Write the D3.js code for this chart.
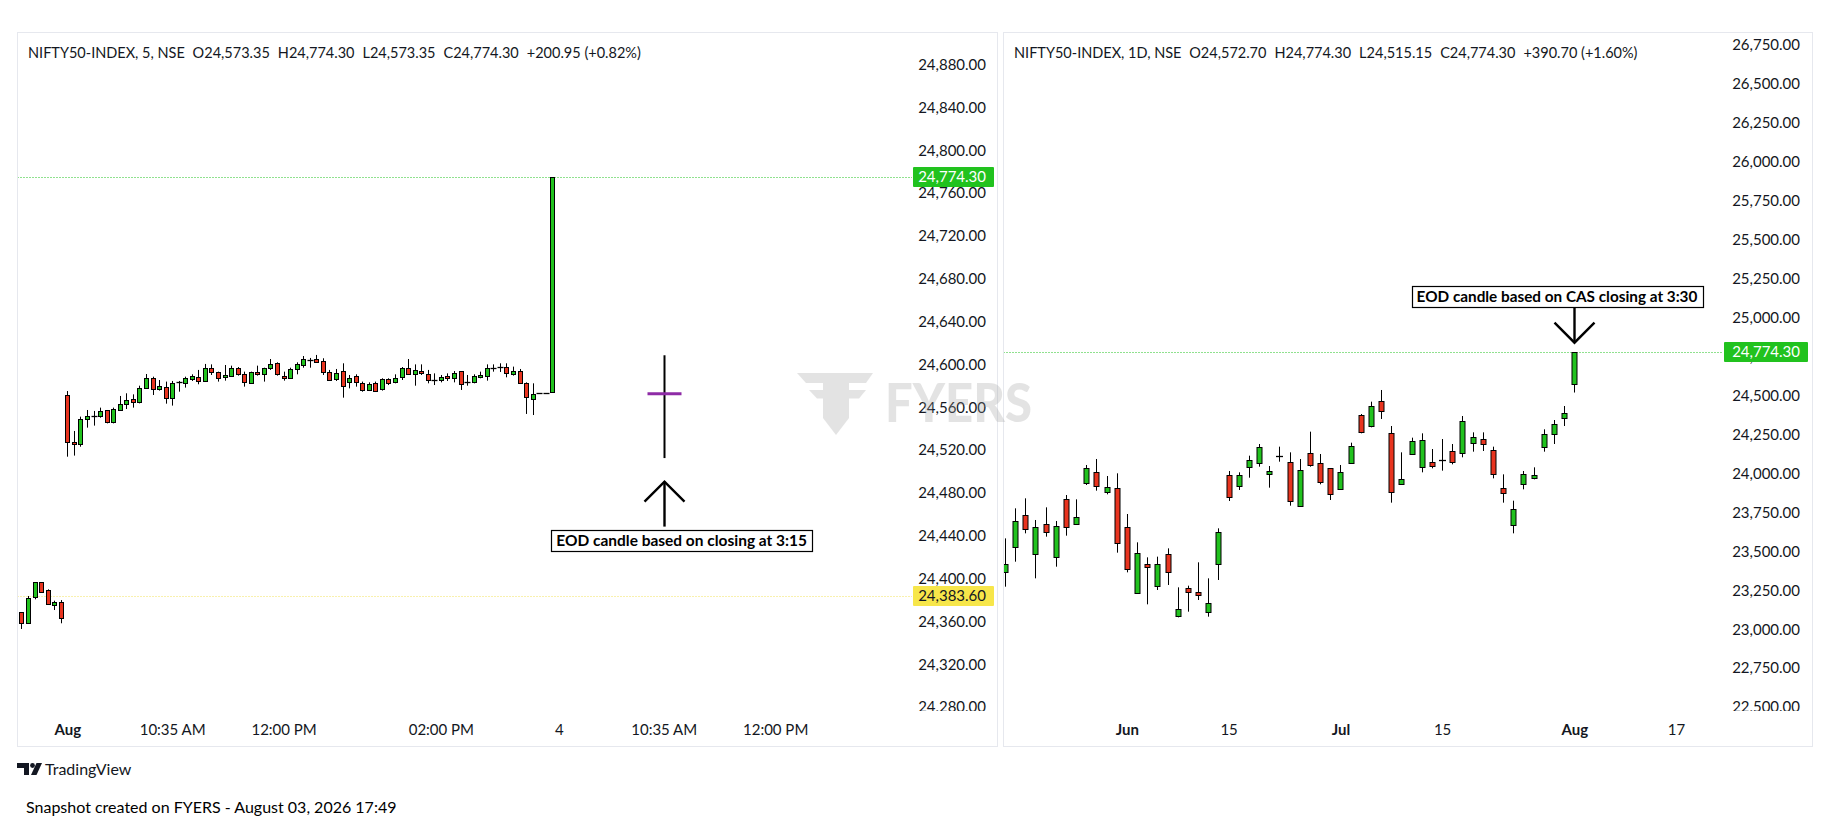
<!DOCTYPE html>
<html>
<head>
<meta charset="utf-8">
<script src="https://cdn.jsdelivr.net/npm/d3@7"></script>
<style>
  html, body { margin: 0; padding: 0; background: #fff; }
  svg { display: block; font-family: Lato, "Noto Sans", sans-serif; }
</style>
</head>
<body>
<svg id="chart" width="1828" height="831"></svg>
<script>
// ---- 5 minute chart (bar 0 = first candle of the Aug session, negative bars = previous session)
const intradayFirstBar = -7
const intradayOpen = [
  24367.9, 24358.3, 24382.6, 24396.0, 24388.8, 24374.5, 24377.3,
  24570.9, 24527.3, 24524.8, 24548.5, 24551.0, 24551.3, 24556.6, 24546.0, 24556.9, 24562.2,
  24567.2, 24564.7, 24577.1, 24587.1, 24576.2, 24578.4, 24568.4, 24582.7, 24581.8, 24585.5,
  24588.0, 24584.3, 24595.8, 24592.1, 24587.4, 24589.0, 24595.8, 24590.2, 24582.4, 24592.1,
  24590.2, 24595.8, 24600.5, 24589.0, 24586.5, 24594.9, 24598.9, 24603.5, 24604.5, 24602.7,
  24592.1, 24585.8, 24593.3, 24582.7, 24589.0, 24581.8, 24575.9, 24581.8, 24576.2, 24585.8,
  24582.7, 24587.4, 24595.8, 24590.2, 24593.3, 24590.2, 24585.0, 24584.6, 24588.6, 24586.5,
  24593.3, 24582.6, 24582.7, 24587.4, 24589.0, 24596.3, 24596.6, 24596.7, 24590.2, 24593.3,
  24581.8, 24566.9, 24572.5, 24572.5, 24573.35
]
const intradayHigh = [
  24367.9, 24383.2, 24396.0, 24396.0, 24389.4, 24378.8, 24379.4,
  24574.6, 24537.3, 24550.7, 24556.9, 24556.0, 24559.1, 24556.9, 24559.1, 24570.0, 24572.5,
  24571.5, 24579.6, 24590.5, 24588.0, 24584.9, 24583.4, 24584.0, 24584.0, 24588.0, 24590.2,
  24594.3, 24599.9, 24599.5, 24592.7, 24598.9, 24598.3, 24597.0, 24592.7, 24592.7, 24598.3,
  24596.4, 24604.5, 24601.4, 24592.7, 24596.4, 24601.4, 24607.3, 24605.5, 24608.3, 24605.2,
  24594.3, 24595.2, 24600.5, 24589.6, 24590.2, 24583.4, 24582.7, 24583.4, 24586.5, 24586.5,
  24590.2, 24597.0, 24604.5, 24599.5, 24599.5, 24594.3, 24591.1, 24589.6, 24591.1, 24593.3,
  24593.3, 24589.6, 24590.2, 24592.7, 24599.5, 24599.5, 24600.5, 24600.5, 24597.4, 24595.2,
  24582.7, 24581.8, 24572.5, 24572.5, 24774.30
]
const intradayLow = [
  24352.4, 24358.3, 24380.1, 24386.3, 24375.4, 24370.1, 24357.7,
  24513.3, 24514.3, 24522.6, 24540.4, 24542.3, 24549.7, 24544.4, 24544.4, 24556.9, 24557.8,
  24559.1, 24563.1, 24576.5, 24570.9, 24575.0, 24562.8, 24561.0, 24574.0, 24577.8, 24584.0,
  24580.9, 24584.3, 24589.6, 24583.4, 24584.3, 24587.7, 24589.0, 24578.7, 24581.8, 24589.0,
  24583.4, 24594.3, 24589.0, 24584.3, 24586.5, 24590.2, 24596.4, 24596.4, 24601.4, 24589.6,
  24584.0, 24584.0, 24568.4, 24577.1, 24578.7, 24574.0, 24574.6, 24574.6, 24575.0, 24580.2,
  24581.8, 24584.9, 24589.6, 24579.6, 24589.6, 24581.8, 24580.2, 24582.7, 24584.0, 24582.7,
  24575.6, 24579.6, 24581.8, 24586.5, 24584.3, 24592.7, 24592.4, 24587.4, 24589.0, 24581.8,
  24553.2, 24552.2, 24572.5, 24572.5, 24573.35
]
const intradayClose = [
  24357.7, 24381.0, 24396.0, 24387.2, 24375.4, 24377.6, 24363.0,
  24527.3, 24524.8, 24548.5, 24551.3, 24551.5, 24556.0, 24546.0, 24557.8, 24562.2, 24566.2,
  24564.7, 24577.1, 24586.5, 24576.2, 24579.0, 24568.4, 24581.8, 24582.9, 24586.5, 24588.6,
  24584.3, 24595.8, 24592.1, 24587.1, 24589.3, 24595.8, 24590.2, 24583.4, 24592.1, 24590.2,
  24595.8, 24599.5, 24590.2, 24586.5, 24594.9, 24599.5, 24604.5, 24603.8, 24602.0, 24592.1,
  24585.2, 24591.1, 24579.6, 24586.5, 24582.7, 24575.9, 24580.9, 24575.0, 24585.8, 24581.8,
  24587.1, 24596.4, 24590.2, 24593.9, 24591.1, 24584.6, 24585.2, 24587.7, 24586.5, 24591.1,
  24581.5, 24582.8, 24588.6, 24589.6, 24595.8, 24596.5, 24596.8, 24591.1, 24593.3, 24581.8,
  24568.7, 24571.5, 24572.5, 24572.5, 24774.30
]
const intradayTickBars = [0, 16, 33, 57, 75, 91, 108]
const intradayTickLabels = ['Aug', '10:35 AM', '12:00 PM', '02:00 PM', '4', '10:35 AM', '12:00 PM']
const intradayTicksBold = ['Aug']
const intradayPriceTicks = d3.range(24280, 24881, 40)
const intradayLast = 24774.30
const intradayPrevClose = 24383.60
// hand drawn "EOD" candle placed on the next session
const eodMarkBar = 91
const eodMarkHigh = 24608, eodMarkLow = 24512, eodMarkLevel = 24572

// ---- daily chart (bar 56 = Aug 3)
const dailyOpen = [
  23361.0, 23525.8, 23726.9, 23476.6, 23669.1, 23457.3, 23829.6, 23669.1, 23936.5, 24002.9,
  23874.5, 23900.2, 23649.9, 23226.3, 23412.4, 23275.5, 23476.6, 23080.8, 23258.4, 23232.7,
  23104.3, 23412.4, 23985.8, 23917.3, 24039.3, 24064.9, 23990.1, 24105.0, 24067.0, 23788.9,
  24124.8, 24060.6, 24028.5, 23893.8, 24060.6, 24370.8, 24302.4, 24460.7, 24253.2, 23925.8,
  24118.4, 24035.0, 24067.0, 24076.0, 24139.8, 24124.8, 24189.0, 24216.8, 24146.2, 23900.2,
  23664.8, 23925.8, 23964.3, 24167.6, 24246.7, 24353.7, 24572.70
]
const dailyHigh = [
  23579.0, 23771.8, 23836.0, 23697.0, 23778.2, 23690.6, 23857.4, 23829.6, 24050.0, 24088.5,
  23979.3, 23996.5, 23735.4, 23553.6, 23457.3, 23461.6, 23515.0, 23264.8, 23275.5, 23425.3,
  23322.6, 23643.5, 24011.4, 24003.0, 24109.8, 24184.7, 24043.5, 24167.6, 24131.2, 24088.5,
  24263.9, 24120.5, 24028.5, 24050.0, 24193.2, 24377.2, 24456.4, 24531.3, 24300.2, 24131.2,
  24225.4, 24253.2, 24152.6, 24216.8, 24184.7, 24364.4, 24259.6, 24259.6, 24167.6, 23990.0,
  23821.0, 24011.4, 24035.0, 24278.9, 24338.7, 24428.6, 24774.30
]
const dailyLow = [
  23269.0, 23429.5, 23611.4, 23322.6, 23590.0, 23397.4, 23596.4, 23669.1, 23921.6, 23885.2,
  23861.7, 23487.3, 23361.0, 23226.3, 23155.7, 23247.7, 23279.8, 23072.2, 23108.6, 23183.5,
  23076.5, 23311.9, 23818.9, 23889.5, 23968.6, 24039.3, 23904.5, 24071.3, 23788.9, 23788.9,
  24039.2, 23925.8, 23825.3, 23893.8, 24060.6, 24253.2, 24291.7, 24345.2, 23808.2, 23925.8,
  24118.4, 24002.9, 24028.5, 24013.6, 24054.2, 24099.2, 24135.5, 24139.8, 23964.3, 23808.2,
  23611.4, 23893.8, 23957.9, 24135.5, 24184.7, 24300.2, 24515.15
]
const dailyClose = [
  23412.4, 23690.6, 23637.0, 23649.9, 23617.8, 23656.3, 23649.9, 23714.1, 24028.5, 23915.2,
  23906.6, 23547.2, 23380.3, 23483.0, 23397.4, 23412.4, 23361.0, 23123.6, 23237.0, 23213.4,
  23162.1, 23617.8, 23846.7, 23985.8, 24082.1, 24167.6, 24011.4, 24108.0, 23821.0, 24017.8,
  24050.0, 23943.0, 23861.7, 24002.9, 24171.9, 24263.9, 24428.6, 24396.5, 23878.8, 23957.9,
  24204.0, 24210.4, 24045.6, 24079.0, 24067.0, 24332.3, 24231.8, 24182.6, 23990.1, 23868.1,
  23765.4, 23990.1, 23985.8, 24246.7, 24311.0, 24383.6, 24774.30
]
const dailyTickBars = [12, 22, 33, 43, 56, 66]
const dailyTickLabels = ['Jun', '15', 'Jul', '15', 'Aug', '17']
const dailyTicksBold = ['Jun', 'Jul', 'Aug']
const dailyPriceTicks = d3.range(22500, 26751, 250)
const dailyLast = 24774.30
const dailyNoteBar = 40, dailyNotePrice = 25200

const intradayLegend = ['NIFTY50-INDEX, 5, NSE', 'O24,573.35', 'H24,774.30', 'L24,573.35', 'C24,774.30', '+200.95 (+0.82%)']
const dailyLegend = ['NIFTY50-INDEX, 1D, NSE', 'O24,572.70', 'H24,774.30', 'L24,515.15', 'C24,774.30', '+390.70 (+1.60%)']

const GREEN = '#21c21e'
const RED = '#e8341f'
const TEXT = '#131722'
const fmt = d3.format(',.2f')

const svg = d3.select('#chart')
svg.append('rect').attr('width', 1828).attr('height', 831).attr('fill', '#fff')

function toCandles(first, o, h, l, c) {
  return o.map((v, i) => ({ bar: first + i, open: v, high: h[i], low: l[i], close: c[i] }))
}

function drawPanel(cfg) {
  const p = cfg.panel
  svg.append('rect')
    .attr('x', p.x0).attr('y', p.y0)
    .attr('width', p.x1 - p.x0).attr('height', p.y1 - p.y0)
    .attr('fill', '#fff').attr('stroke', '#e6e8ee').attr('stroke-width', 1)

  const clipId = cfg.id + '-clip'
  svg.append('clipPath').attr('id', clipId)
    .append('rect')
    .attr('x', p.x0 + 0.5).attr('y', p.y0 + 1)
    .attr('width', cfg.plotRight - p.x0).attr('height', cfg.plotBottom - p.y0)

  const plot = svg.append('g').attr('clip-path', `url(#${clipId})`)
  const x = cfg.x, y = cfg.y

  // last price / previous close dotted lines
  cfg.lines.forEach((ln) => {
    plot.append('line')
      .attr('x1', p.x0).attr('x2', cfg.plotRight)
      .attr('y1', Math.round(y(ln.value)) + 0.5).attr('y2', Math.round(y(ln.value)) + 0.5)
      .attr('stroke', ln.color).attr('stroke-width', 1)
      .attr('stroke-dasharray', '1 2')
  })

  const candles = plot.append('g')
  const bw = cfg.bodyWidth
  const c = candles.selectAll('g').data(cfg.data).join('g')
  c.append('line')
    .attr('x1', (d) => Math.round(x(d.bar)) + 0.5)
    .attr('x2', (d) => Math.round(x(d.bar)) + 0.5)
    .attr('y1', (d) => y(d.high))
    .attr('y2', (d) => y(d.low))
    .attr('stroke', '#000').attr('stroke-width', 1)
  c.each(function (d) {
    const g = d3.select(this)
    const top = y(Math.max(d.open, d.close))
    const bot = y(Math.min(d.open, d.close))
    const cx = Math.round(x(d.bar))
    if (bot - top < 1.5) {
      g.append('line')
        .attr('x1', cx - bw / 2 - 0.5).attr('x2', cx + bw / 2 + 1.5)
        .attr('y1', Math.round(top) + 0.5).attr('y2', Math.round(top) + 0.5)
        .attr('stroke', '#000').attr('stroke-width', 1.3)
    } else {
      g.append('rect')
        .attr('x', cx - bw / 2 + 0.5)
        .attr('y', Math.round(top) + 0.5)
        .attr('width', bw)
        .attr('height', Math.max(1, Math.round(bot) - Math.round(top)))
        .attr('fill', d.close >= d.open ? GREEN : RED)
        .attr('stroke', '#000').attr('stroke-width', 1)
    }
  })

  // price scale
  const axisClip = cfg.id + '-aclip'
  svg.append('clipPath').attr('id', axisClip)
    .append('rect')
    .attr('x', cfg.plotRight).attr('y', p.y0 + 1)
    .attr('width', p.x1 - cfg.plotRight).attr('height', cfg.plotBottom - 2 - p.y0)
  const ya = svg.append('g')
    .attr('clip-path', `url(#${axisClip})`)
    .append('g')
    .attr('transform', `translate(${cfg.labelRight},0)`)
    .call(d3.axisRight(y).tickValues(cfg.priceTicks).tickFormat(fmt).tickSize(0))
  ya.select('.domain').remove()
  ya.selectAll('text')
    .attr('x', 0).attr('dy', '0.36em')
    .attr('text-anchor', 'end')
    .attr('font-family', 'Lato, sans-serif')
    .attr('font-size', 15)
    .attr('fill', TEXT)

  // time scale
  const xa = svg.append('g')
    .attr('transform', `translate(0,${cfg.timeY})`)
    .call(d3.axisBottom(x).tickValues(cfg.tickBars).tickFormat((d, i) => cfg.tickLabels[i]).tickSize(0))
  xa.select('.domain').remove()
  xa.selectAll('text')
    .attr('y', 0).attr('dy', '0.36em')
    .attr('font-family', 'Lato, sans-serif')
    .attr('font-size', 15)
    .attr('fill', TEXT)
    .attr('font-weight', function () {
      return cfg.boldTicks.includes(this.textContent) ? 700 : 400
    })

  // price labels on the scale
  cfg.lines.forEach((ln) => {
    const yy = Math.round(y(ln.value))
    svg.append('rect')
      .attr('x', cfg.plotRight + 1).attr('y', yy - 10)
      .attr('width', cfg.labelRight + 8 - cfg.plotRight - 1).attr('height', 20)
      .attr('rx', 1)
      .attr('fill', ln.box)
    svg.append('text')
      .attr('x', cfg.labelRight).attr('y', yy)
      .attr('dy', '0.36em')
      .attr('text-anchor', 'end')
      .attr('font-size', 15)
      .attr('fill', ln.text)
      .text(fmt(ln.value))
  })

  // legend
  const lg = svg.append('text')
    .attr('x', p.x0 + 10.5).attr('y', 57.5)
    .attr('font-size', 14.5)
    .attr('fill', TEXT)
  cfg.legend.forEach((s, i) => {
    lg.append('tspan').attr('dx', i === 0 ? 0 : 8).text(s)
  })
}

const xIntraday = d3.scaleLinear().domain([0, 74]).range([67.3, 552.3])
const yIntraday = d3.scaleLinear().domain([24280, 24880]).range([706.5, 64])
const xDaily = d3.scaleLinear().domain([0, 56]).range([1004.9, 1574.3])
const yDaily = d3.scaleLinear().domain([22500, 26750]).range([706.5, 44.3])

drawPanel({
  id: 'intraday',
  panel: { x0: 17.5, x1: 997.5, y0: 32.5, y1: 746.5 },
  plotRight: 912, plotBottom: 712, labelRight: 986, timeY: 730,
  x: xIntraday, y: yIntraday, bodyWidth: 4,
  data: toCandles(intradayFirstBar, intradayOpen, intradayHigh, intradayLow, intradayClose),
  priceTicks: intradayPriceTicks,
  tickBars: intradayTickBars, tickLabels: intradayTickLabels, boldTicks: intradayTicksBold,
  lines: [
    { value: intradayLast, color: GREEN, box: GREEN, text: '#fff' },
    { value: intradayPrevClose, color: '#f2e35c', box: '#f7e64a', text: TEXT },
  ],
  legend: intradayLegend,
})

drawPanel({
  id: 'daily',
  panel: { x0: 1003.5, x1: 1812.5, y0: 32.5, y1: 746.5 },
  plotRight: 1723, plotBottom: 712, labelRight: 1800, timeY: 730,
  x: xDaily, y: yDaily, bodyWidth: 5,
  data: toCandles(0, dailyOpen, dailyHigh, dailyLow, dailyClose),
  priceTicks: dailyPriceTicks,
  tickBars: dailyTickBars, tickLabels: dailyTickLabels, boldTicks: dailyTicksBold,
  lines: [{ value: dailyLast, color: GREEN, box: GREEN, text: '#fff' }],
  legend: dailyLegend,
})

// ---- FYERS watermark
const wm = svg.append('g').attr('fill', '#9e9e9e').attr('opacity', 0.28)
const poly = d3.line()
wm.append('path').attr('d', poly([[797, 373], [873, 373], [866, 383], [806, 383]]) + 'Z')
wm.append('path').attr('d', poly([[809, 390], [866, 390], [859, 398.5], [817, 398.5]]) + 'Z')
wm.append('path').attr('d', poly([[823, 373], [849, 373], [849, 418], [836, 435], [823, 418]]) + 'Z')
wm.append('text')
  .attr('x', 885).attr('y', 421.7)
  .attr('font-size', 53).attr('font-weight', 900)
  .attr('textLength', 147).attr('lengthAdjust', 'spacingAndGlyphs')
  .text('FYERS')

// ---- drawings on the 5 minute chart
const ex = Math.round(xIntraday(eodMarkBar)) + 0.5
svg.append('line')
  .attr('x1', ex).attr('x2', ex)
  .attr('y1', yIntraday(eodMarkHigh)).attr('y2', yIntraday(eodMarkLow))
  .attr('stroke', '#000').attr('stroke-width', 2)
svg.append('line')
  .attr('x1', ex - 17).attr('x2', ex + 17)
  .attr('y1', yIntraday(eodMarkLevel)).attr('y2', yIntraday(eodMarkLevel))
  .attr('stroke', '#8e2ba6').attr('stroke-width', 3)

function arrow(x0, yFrom, yTo) {
  const dir = yTo > yFrom ? 1 : -1
  const g = svg.append('g').attr('stroke', '#000').attr('stroke-width', 2.4).attr('fill', 'none')
  g.append('line').attr('x1', x0).attr('x2', x0).attr('y1', yFrom).attr('y2', yTo)
  g.append('path').attr('d', d3.line()([[x0 - 20, yTo - dir * 20], [x0, yTo], [x0 + 20, yTo - dir * 20]]))
}

// callout box; font size is fitted so the text runs the width it has in the snapshot
function note(xLeft, yTop, label, textWidth) {
  const t = svg.append('text')
    .attr('x', xLeft + 5).attr('y', yTop + 16)
    .attr('font-size', 14.5).attr('font-weight', 700)
    .attr('fill', '#000')
    .text(label)
  const size = 14.5 * textWidth / t.node().getComputedTextLength()
  t.attr('font-size', size)
  const w = t.node().getComputedTextLength()
  svg.insert('rect', () => t.node())
    .attr('x', Math.round(xLeft) + 0.5).attr('y', Math.round(yTop) + 0.5)
    .attr('width', Math.round(w + 10)).attr('height', 21)
    .attr('fill', '#fff').attr('stroke', '#000').attr('stroke-width', 1.2)
}

arrow(ex, yIntraday(24448), yIntraday(24490))
note(xIntraday(74) - 1, yIntraday(24444.8), 'EOD candle based on closing at 3:15', 251)

const dx = Math.round(xDaily(56)) + 0.5
arrow(dx, yDaily(dailyNotePrice) + 21, yDaily(24835))
note(xDaily(dailyNoteBar), yDaily(dailyNotePrice), 'EOD candle based on CAS closing at 3:30', 281)

// ---- footer
const logo = svg.append('g').attr('fill', TEXT)
logo.append('path').attr('d', 'M17,763H29V775H24V768H17Z')
logo.append('circle').attr('cx', 32.5).attr('cy', 765.5).attr('r', 2.4)
logo.append('path').attr('d', 'M36.5,763H42L36.5,775H31Z')
svg.append('text')
  .attr('x', 45).attr('y', 775)
  .attr('font-size', 16).attr('fill', TEXT)
  .text('TradingView')

svg.append('text')
  .attr('x', 26).attr('y', 813)
  .attr('font-size', 16).attr('fill', '#000')
  .text('Snapshot created on FYERS - August 03, 2026 17:49')
</script>
</body>
</html>
